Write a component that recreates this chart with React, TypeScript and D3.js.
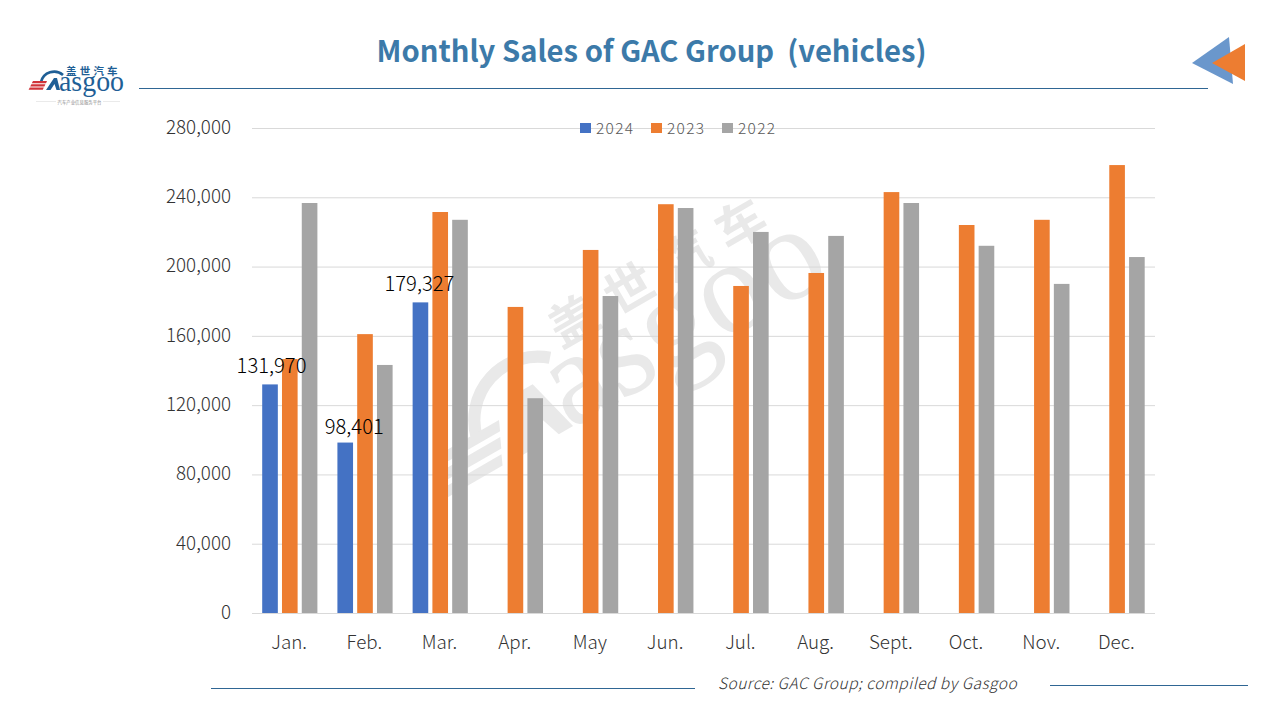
import { useEffect, useRef } from 'react';
import * as d3 from 'd3';

const months = ['Jan.', 'Feb.', 'Mar.', 'Apr.', 'May', 'Jun.', 'Jul.', 'Aug.', 'Sept.', 'Oct.', 'Nov.', 'Dec.'];
const years = ['2024', '2023', '2022'];
const sales2024 = [131970, 98401, 179327];
const sales2023 = [146600, 161000, 231500, 176700, 209600, 236000, 188800, 196300, 243000, 224000, 227000, 258600];
const sales2022 = [236700, 143200, 227000, 124000, 183000, 233800, 220000, 217700, 236700, 212000, 190000, 205500];
const yTicks = [0, 40000, 80000, 120000, 160000, 200000, 240000, 280000];
const colors = ['#4472c4', '#ed7d31', '#a5a5a5'];
// labels were dragged by hand in the original
const labelShiftX = [1.5, 9, -1];
const labelShiftY = [-11, -9, -11];

const FONT = '"Noto Sans CJK SC", "Noto Sans", sans-serif';
const SERIF = '"Liberation Serif", serif';
const BLUE = '#3c7aa9';

// drawn in logo coordinates, reused for the big watermark
const drawLogo = (g, main, stripe, small) => {
  g.append('text').attr('x', 66).attr('y', 74.5).attr('font-family', FONT).attr('font-size', 10.5)
    .attr('font-weight', 700).attr('letter-spacing', 3.2).attr('fill', main).text('盖世汽车');
  g.append('path').attr('d', 'M41,82 A 13.5,13.5 0 0 1 63,75').attr('fill', 'none')
    .attr('stroke', main).attr('stroke-width', 2.6);
  g.append('polygon').attr('points', '46,90 54,78 57,78 60,90 56.5,90 54.5,84 50.5,90').attr('fill', main);
  g.append('text').attr('x', 59).attr('y', 90.5).attr('font-family', SERIF).attr('font-size', 28.5)
    .attr('textLength', 65).attr('lengthAdjust', 'spacingAndGlyphs').attr('fill', main).text('asgoo');
  [0, 1, 2].forEach(i => {
    const top = 81 + i * 3.3;
    const left = 33 - i * 1.6;
    g.append('polygon')
      .attr('points', `${left},${top} ${left + 14},${top} ${left + 13},${top + 2.2} ${left - 1.2},${top + 2.2}`)
      .attr('fill', stripe);
  });
  if (small) {
    g.append('line').attr('x1', 36).attr('x2', 120).attr('y1', 101.5).attr('y2', 101.5).attr('stroke', '#eaeaea');
    g.append('rect').attr('x', 56).attr('y', 99).attr('width', 47).attr('height', 5).attr('fill', '#fff');
    g.append('text').attr('x', 79.5).attr('y', 103.5).attr('text-anchor', 'middle').attr('font-family', FONT)
      .attr('font-size', 4.4).attr('fill', '#8a8a8a').text('汽车产业信息服务平台');
  }
};

const App = () => {
  const svgRef = useRef<SVGSVGElement>(null);

  useEffect(() => {
    const svg = d3.select(svgRef.current);
    svg.selectAll('*').remove();

    const x = d3.scaleBand().domain(months).range([252, 1154.5]);
    const y = d3.scaleLinear().domain([0, 280000]).range([613, 128]);
    const series = d3.scaleBand().domain(years).range([10.2, 65.4]).paddingInner(0.21);

    // title and rules
    svg.append('text').attr('x', 651.5).attr('y', 62).attr('text-anchor', 'middle')
      .attr('font-family', FONT).attr('font-size', 29.2).attr('font-weight', 700)
      .attr('fill', BLUE).attr('xml:space', 'preserve').text('Monthly Sales of GAC Group  (vehicles)');
    svg.append('line').attr('x1', 139).attr('x2', 1208).attr('y1', 88.5).attr('y2', 88.5)
      .attr('stroke', '#2f6694').attr('stroke-width', 1);

    // arrows top right
    svg.append('polygon').attr('points', '1192,63 1229,37 1233,84').attr('fill', '#6a97cc');
    svg.append('polygon').attr('points', '1212,63 1245,44 1245,81').attr('fill', '#ed7d31');

    // logo
    drawLogo(svg.append('g'), '#1f5f96', '#d0343a', true);

    // watermark
    drawLogo(
      svg.append('g').attr('transform', 'translate(477,457) rotate(-30) scale(4.7) translate(-39,-85.5)'),
      '#e9e9e9', '#e9e9e9', false
    );

    // grid
    svg.append('g').selectAll('line').data(yTicks).enter().append('line')
      .attr('x1', 252).attr('x2', 1155)
      .attr('y1', d => y(d) + 0.5).attr('y2', d => y(d) + 0.5)
      .attr('stroke', '#d9d9d9').attr('stroke-width', 1);

    // bars
    const allSeries = [sales2024, sales2023, sales2022];
    allSeries.forEach((values, s) => {
      svg.append('g').selectAll('rect').data(values).enter().append('rect')
        .attr('x', (_d, i) => (x(months[i]) as number) + (series(years[s]) as number))
        .attr('y', d => y(d))
        .attr('width', series.bandwidth())
        .attr('height', d => y(0) - y(d))
        .attr('fill', colors[s]);
    });

    // data labels for 2024
    svg.append('g').selectAll('text').data(sales2024).enter().append('text')
      .attr('x', (_d, i) => (x(months[i]) as number) + (series('2024') as number) + series.bandwidth() / 2 + labelShiftX[i])
      .attr('y', (d, i) => y(d) + labelShiftY[i])
      .attr('text-anchor', 'middle').attr('font-family', FONT).attr('font-size', 20.2).attr('font-weight', 300).attr('fill', '#000')
      .text(d => d3.format(',')(d));

    // y axis
    svg.append('g').selectAll('text').data(yTicks).enter().append('text')
      .attr('x', 231).attr('y', d => y(d) + 5.8).attr('text-anchor', 'end')
      .attr('font-family', FONT).attr('font-size', 18.8).attr('font-weight', 300).attr('fill', '#333')
      .text(d => d3.format(',')(d));

    // x axis
    svg.append('g').selectAll('text').data(months).enter().append('text')
      .attr('x', d => (x(d) as number) + x.bandwidth() / 2 - 0.5).attr('y', 649).attr('text-anchor', 'middle')
      .attr('font-family', FONT).attr('font-size', 18.8).attr('font-weight', 300).attr('fill', '#333')
      .text(d => d);

    // legend
    const legendX = [580, 651, 722];
    years.forEach((yr, i) => {
      svg.append('rect').attr('x', legendX[i]).attr('y', 123).attr('width', 11).attr('height', 10).attr('fill', colors[i]);
      svg.append('text').attr('x', legendX[i] + 16).attr('y', 133.5).attr('font-family', FONT)
        .attr('font-size', 15.5).attr('font-weight', 300).attr('letter-spacing', 1.3).attr('fill', '#595959').text(yr);
    });

    // source line
    svg.append('line').attr('x1', 211).attr('x2', 695).attr('y1', 688.5).attr('y2', 688.5).attr('stroke', '#2f6694');
    svg.append('line').attr('x1', 1050).attr('x2', 1248).attr('y1', 685.5).attr('y2', 685.5).attr('stroke', '#2f6694');
    svg.append('text').attr('x', 718).attr('y', 689).attr('font-family', FONT).attr('font-size', 15.5)
      .attr('font-style', 'italic').attr('font-weight', 300).attr('letter-spacing', 0.48).attr('fill', '#333').text('Source: GAC Group; compiled by Gasgoo');
  }, []);

  return (
    <svg ref={svgRef} width={1280} height={720}
      style={{ position: 'absolute', left: 0, top: 0, background: '#fff' }} />
  );
};

export default App;
